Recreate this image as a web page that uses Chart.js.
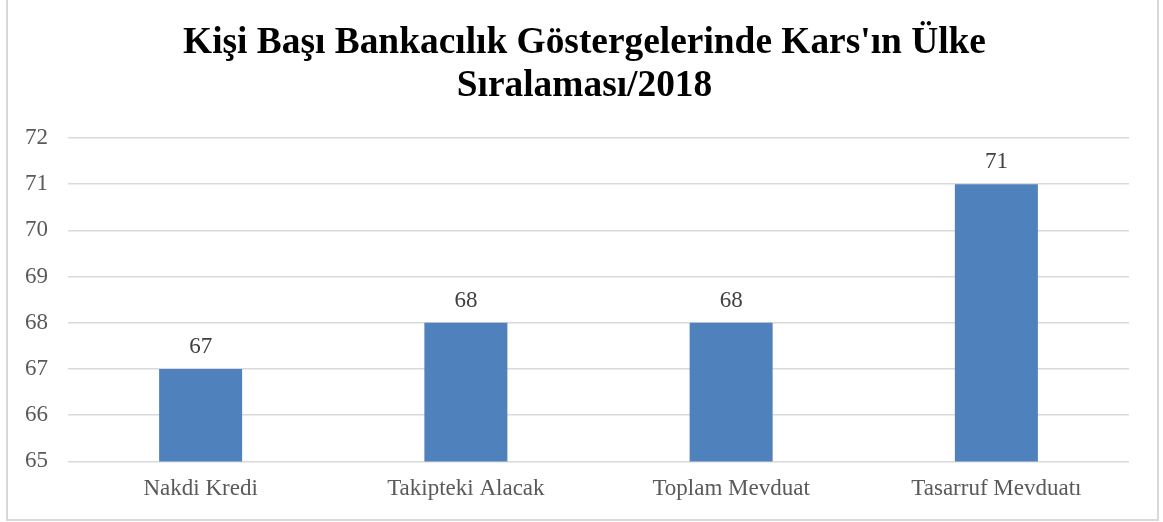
<!DOCTYPE html>
<html>
<head>
<meta charset="utf-8">
<script src="https://cdn.jsdelivr.net/npm/chart.js@4"></script>
<style>
  html, body { margin: 0; padding: 0; background: #fff; }
  #wrap { position: relative; width: 1163px; height: 522px; overflow: hidden; }
  #frame { position: absolute; left: 6px; top: -4px; width: 1153px; height: 525px; border: 2px solid #d9d9d9; box-sizing: border-box; pointer-events: none; }
  canvas { position: absolute; left: 0; top: 0; }
</style>
</head>
<body>
<div id="wrap">
  <canvas id="chart" width="1163" height="522"></canvas>
  <div id="frame"></div>
</div>
<script>
const titleLines = ["Kişi Başı Bankacılık Göstergelerinde Kars'ın Ülke", 'Sıralaması/2018'];
const categories = ['Nakdi Kredi', 'Takipteki Alacak', 'Toplam Mevduat', 'Tasarruf Mevduatı'];
const ranks = [67, 68, 68, 71];
const yMin = 65;
const yMax = 72;

const FONT = "'Liberation Serif', 'Times New Roman', serif";

// başlık: tuvalin ortasına, iki satır
const centeredTitle = {
  id: 'centeredTitle',
  afterDraw(chart) {
    const ctx = chart.ctx;
    ctx.save();
    ctx.font = 'bold 37.4px ' + FONT;
    ctx.fillStyle = '#000';
    ctx.textAlign = 'center';
    ctx.textBaseline = 'alphabetic';
    titleLines.forEach((line, i) => {
      ctx.fillText(line, chart.width / 2 + 3, 53 + i * 43);
    });
    ctx.restore();
  }
};

// değerleri çubukların üstüne yaz
const valueLabels = {
  id: 'valueLabels',
  afterDatasetsDraw(chart) {
    const ctx = chart.ctx;
    const meta = chart.getDatasetMeta(0);
    ctx.save();
    ctx.font = '23px ' + FONT;
    ctx.fillStyle = '#404040';
    ctx.textAlign = 'center';
    ctx.textBaseline = 'alphabetic';
    meta.data.forEach((bar, i) => {
      ctx.fillText(String(ranks[i]), bar.x, bar.y - 16);
    });
    ctx.restore();
  }
};

new Chart(document.getElementById('chart').getContext('2d'), {
  type: 'bar',
  data: {
    labels: categories,
    datasets: [{
      data: ranks,
      backgroundColor: '#4f81bd',
      borderWidth: 0,
      categoryPercentage: 0.313,
      barPercentage: 1
    }]
  },
  options: {
    responsive: false,
    animation: false,
    layout: { padding: { left: 5, right: 34, top: 138, bottom: 5 } },
    plugins: {
      legend: { display: false },
      tooltip: { enabled: false },
      title: { display: false }
    },
    scales: {
      x: {
        grid: { display: false, drawTicks: false },
        border: { display: false },
        ticks: { color: '#595959', font: { family: FONT, size: 23 }, padding: 14 }
      },
      y: {
        min: yMin,
        max: yMax,
        grid: { color: '#d9d9d9', lineWidth: 1.5, drawTicks: false },
        border: { display: false },
        ticks: { stepSize: 1, color: '#595959', font: { family: FONT, size: 23 }, padding: 20 }
      }
    }
  },
  plugins: [valueLabels, centeredTitle]
});
</script>
</body>
</html>
